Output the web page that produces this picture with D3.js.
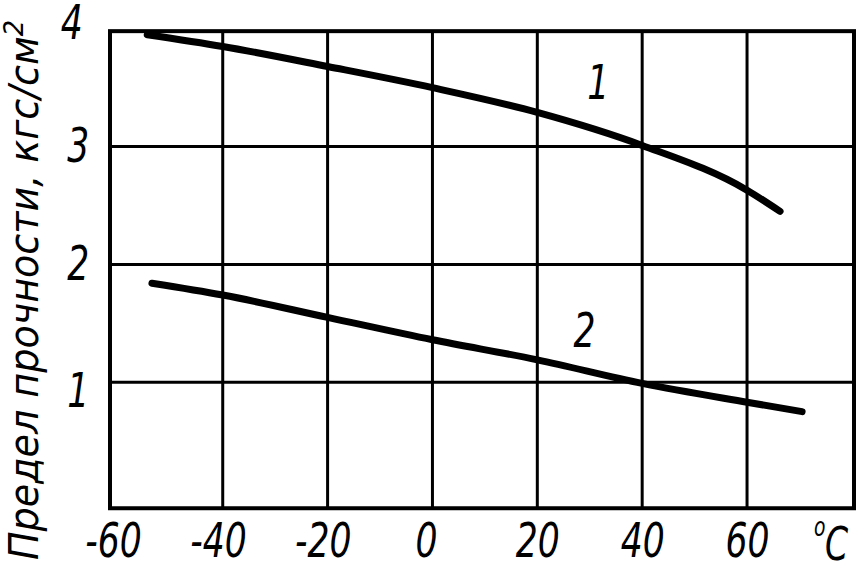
<!DOCTYPE html>
<html>
<head>
<meta charset="utf-8">
<script src="https://cdn.jsdelivr.net/npm/d3@7"></script>
<style>
  body { margin: 0; background: #fff; }
  text { font-family: "DejaVu Sans Condensed", "DejaVu Sans", sans-serif; font-style: italic; fill: #000; }
</style>
</head>
<body>
<div id="chart"></div>
<script>
// temperature, °C
const temps1 = [-54.4, -40, -20, 0, 20, 40, 60, 66.3];
const strength1 = [3.95, 3.85, 3.68, 3.50, 3.29, 3.01, 2.63, 2.45];
const temps2 = [-53.5, -40, -20, 0, 20, 40, 60, 70.5];
const strength2 = [1.84, 1.74, 1.55, 1.36, 1.19, 0.99, 0.83, 0.75];
const xTicks = [-60, -40, -20, 0, 20, 40, 60];
const yTicks = [1, 2, 3, 4];
const xGrid = [-40, -20, 0, 20, 40, 60];
const yGrid = [1, 2, 3];
const seriesNames = ["1", "2"];

const width = 867, height = 568;
const squeeze = 0.8;

const svg = d3.select("#chart")
    .append("svg")
    .attr("width", width)
    .attr("height", height);

const x = d3.scaleLinear().domain([-61.5, 80.4]).range([110, 854]);
const y = d3.scaleLinear().domain([1, 4]).range([382.2, 28.8]);

const frameTop = y(3.98), frameBottom = y(-0.07);
const frameLeft = x(-61.5), frameRight = x(80.4);

// grid lines
svg.append("g")
    .selectAll("line")
    .data(xGrid)
    .enter()
    .append("line")
    .attr("x1", d => x(d)).attr("x2", d => x(d))
    .attr("y1", frameTop).attr("y2", frameBottom)
    .attr("stroke", "#000")
    .attr("stroke-width", 3);

svg.append("g")
    .selectAll("line")
    .data(yGrid)
    .enter()
    .append("line")
    .attr("x1", frameLeft).attr("x2", frameRight)
    .attr("y1", d => y(d)).attr("y2", d => y(d))
    .attr("stroke", "#000")
    .attr("stroke-width", 3);

// frame
svg.append("rect")
    .attr("x", frameLeft)
    .attr("y", frameTop)
    .attr("width", frameRight - frameLeft)
    .attr("height", frameBottom - frameTop)
    .attr("fill", "none")
    .attr("stroke", "#000")
    .attr("stroke-width", 4);

// axes (labels only)
const xAxis = svg.append("g")
    .attr("transform", `translate(0, ${frameBottom})`)
    .call(d3.axisBottom(x).tickValues(xTicks).tickSize(0).tickPadding(15).tickFormat(d => d));
xAxis.select(".domain").remove();
xAxis.selectAll("text")
    .style("font-size", "48px")
    .attr("dx", d => d < 0 ? "-6" : d === 0 ? "-8" : "0")
    .attr("transform", `scale(${squeeze},1)`)
    .attr("fill", "#000");

const yAxis = svg.append("g")
    .attr("transform", `translate(${frameLeft}, 0)`)
    .call(d3.axisLeft(y).tickValues(yTicks).tickSize(0).tickPadding(26).tickFormat(d => d));
yAxis.select(".domain").remove();
yAxis.selectAll("text")
    .style("font-size", "48px")
    .attr("dy", d => d === 4 ? "0.2em" : d === 1 ? "0.5em" : "0.32em")
    .attr("dx", d => d === 4 ? "-8" : "0")
    .attr("transform", `scale(${squeeze},1)`)
    .attr("fill", "#000");

// °C
svg.append("text")
    .attr("transform", `translate(825, 560) scale(${squeeze},1)`)
    .style("font-size", "46px")
    .text("C");
svg.append("text")
    .attr("transform", `translate(814, 536) scale(${squeeze},1)`)
    .style("font-size", "26px")
    .text("o");

// curves
const line = d3.line()
    .x(d => x(d[0]))
    .y(d => y(d[1]))
    .curve(d3.curveMonotoneX);

const series = [
    d3.zip(temps1, strength1),
    d3.zip(temps2, strength2)
];

svg.append("g")
    .selectAll("path")
    .data(series)
    .enter()
    .append("path")
    .attr("d", line)
    .attr("fill", "none")
    .attr("stroke", "#000")
    .attr("stroke-width", 7)
    .attr("stroke-linecap", "round");

// curve labels
const labelPos = [[31.6, 3.4], [29, 1.3]];
svg.append("g")
    .selectAll("text")
    .data(seriesNames)
    .enter()
    .append("text")
    .attr("transform", (d, i) => `translate(${x(labelPos[i][0])}, ${y(labelPos[i][1])}) scale(${squeeze},1)`)
    .attr("text-anchor", "middle")
    .style("font-size", "48px")
    .text(d => d);

// y axis title
const title = svg.append("text")
    .attr("transform", "translate(38, 290) rotate(-90)")
    .attr("text-anchor", "middle")
    .attr("textLength", 540)
    .attr("lengthAdjust", "spacingAndGlyphs")
    .style("font-size", "40px");
title.append("tspan").text("Предел прочности, кгс/см");
title.append("tspan").attr("dy", -15).style("font-size", "27px").text("2");
</script>
</body>
</html>
